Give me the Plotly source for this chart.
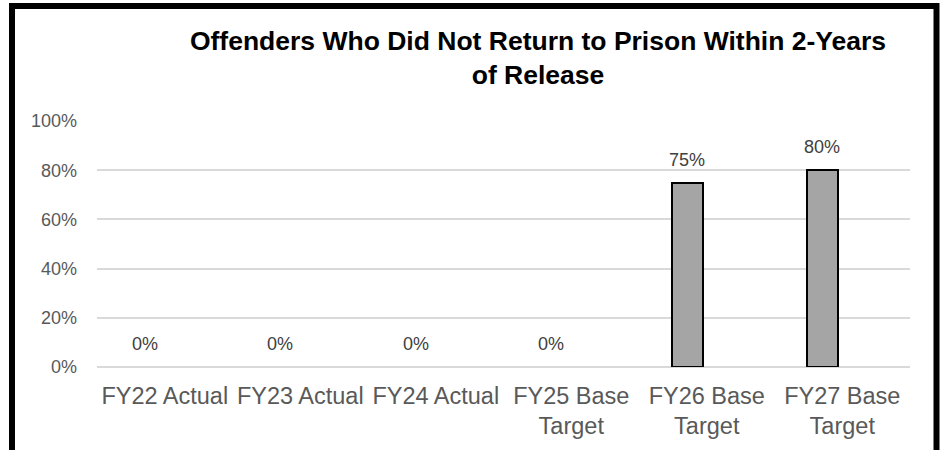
import plotly.graph_objects as go

categories = ["FY22 Actual", "FY23 Actual", "FY24 Actual", "FY25 Base<br>Target",
              "FY26 Base<br>Target", "FY27 Base<br>Target"]
values = [0.0, 0.0, 0.0, 0.0, 0.75, 0.80]
value_labels = ["0%", "0%", "0%", "0%", "75%", "80%"]
y_ticks = [0, 0.2, 0.4, 0.6, 0.8, 1.0]
y_tick_labels = ["0%", "20%", "40%", "60%", "80%", "100%"]
title_text = "Offenders Who Did Not Return to Prison Within 2-Years<br>of Release"

fig = go.Figure()
fig.add_trace(go.Bar(
    x=categories, y=values,
    width=0.229, offset=-0.258,
    marker=dict(color="#a5a5a5",
                line=dict(color="#000000", width=[0 if v == 0 else 2 for v in values])),
    hoverinfo="skip",
))

for c, v, t in zip(categories, values, value_labels):
    fig.add_annotation(x=c, y=v, xref="x", yref="y", text=t, showarrow=False,
                       xshift=-20, yshift=23,
                       font=dict(family="Liberation Sans, Arial", size=18, color="#404040"))

# outer border
L, R, T, B = 97, 910, 121, 367
pw, ph = R - L, B - T
def px(x):
    return (x - L) / pw
def py(y):
    return (B - y) / ph
fig.add_shape(type="rect", xref="paper", yref="paper",
              x0=px(12), x1=px(936.5), y0=py(470), y1=py(6),
              line=dict(color="#000000", width=6), fillcolor="rgba(0,0,0,0)", layer="above")

fig.update_layout(
    width=942, height=450,
    margin=dict(l=L, r=942 - R, t=T, b=450 - B),
    paper_bgcolor="white", plot_bgcolor="white",
    showlegend=False,
    title=dict(text=title_text, x=538 / 942, xref="container", xanchor="center",
               y=1 - 50 / 450, yref="container", yanchor="top",
               font=dict(family="Liberation Sans, Arial", size=26.5, color="#000000",
                         weight="bold")),
    xaxis=dict(type="category", showgrid=False, showline=False, zeroline=False, ticks="",
               ticklabelstandoff=12,
               tickfont=dict(family="Liberation Sans, Arial", size=23.5, color="#595959"),
               range=[-0.5, 5.5], fixedrange=True),
    yaxis=dict(range=[0, 1.0], tickvals=y_ticks, ticktext=y_tick_labels,
               showgrid=True, gridcolor="#d9d9d9", gridwidth=1.5,
               zeroline=True, zerolinecolor="#d9d9d9", zerolinewidth=1.5,
               showline=False, ticks="", ticklabelstandoff=19,
               tickfont=dict(family="Liberation Sans, Arial", size=18, color="#595959"),
               fixedrange=True),
    font=dict(family="Liberation Sans, Arial"),
    bargap=0,
)

fig.write_html("out.html", config={"displayModeBar": False},
               post_script="document.body.style.margin='0';document.body.style.overflow='hidden';")
